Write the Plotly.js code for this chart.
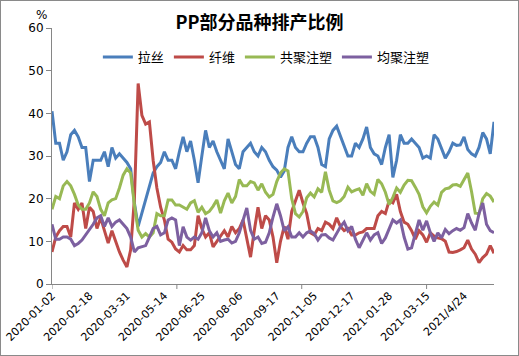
<!DOCTYPE html>
<html>
<head>
<meta charset="utf-8">
<script src="https://cdn.plot.ly/plotly-3.0.1.min.js"></script>
<style>
  html, body { margin: 0; padding: 0; background: #fff; }
  #wrap { position: relative; width: 519px; height: 356px; }
  #chart { width: 519px; height: 356px; }
  #frame { position: absolute; left: 0; top: 0; width: 517px; height: 354px; border: 1px solid #8a8a8a; pointer-events: none; }
</style>
</head>
<body>
<div id="wrap"><div id="chart"></div><div id="frame"></div></div>
<script>
// Date labels shown on the category axis (one label every 10 sampled points)
const tickLabels = ['2020-01-02','2020-02-18','2020-03-31','2020-05-14','2020-06-25','2020-08-06',
                    '2020-09-17','2020-11-05','2020-12-17','2021-01-28','2021-03-15','2021/4/24'];

const seriesNames = ['拉丝','纤维','共聚注塑','均聚注塑'];

// 拉丝
const lasi = [40.5,33,33,29,31,35,36,34.5,32,32,
  24,29,29,29,31,27.5,32,29.5,30.5,29.5,
  28.5,27,19,13.5,16.5,20,23,26,27.5,28.5,
  31,29,29,27,31,34.5,31,33.5,29,23.7,
  30,36,32,33.5,31,29,27,34,31,28,
  27,31,32,33,31,30,32,31,29,27.5,
  26.7,25,26.5,32,34.5,32,31,31,33,34.5,
  34.5,32,28,27.5,34,36,37,34.5,32.5,30,
  30,33,32,34,36.8,32,30.5,30,28,32,
  35,25,29,35,33,33,34,33,32,29.5,
  30,29.5,35,34,31.5,29.5,31,33,32.5,32.6,
  34.5,31.5,30.5,30,32,35.5,34,30.5,38];

// 纤维
const xianwei = [7.5,11,12.5,13.5,13.5,11,19,17.5,19,13,
  18,17,13,15.5,12.5,9.6,12.5,10,7.5,5.6,
  4,8,20,47,39.5,37.5,38,29,22.5,18,
  15,10.5,9.8,8.2,7.5,9,8,8,9,16,
  13,11,12,8.7,10,11.5,12.5,11,13.5,12,
  13,15,10.5,6.3,12.5,18,13,16,15,11,
  5,10,13.5,10.5,17,19.5,22,19,16.5,12,
  11.5,13,12.5,14.5,14,13,15.5,13.5,12.5,13,
  11.5,11.5,12,12.2,13,13,13,16,17,16.5,
  19.5,19,21,17,14.5,14,12.5,10.5,12.5,11.5,
  9.8,12,11.2,10.8,10.6,10,7.5,7.4,7.6,8,
  8.5,10.3,8.2,7,5,6.2,7,9,7.2];

// 共聚注塑
const gongju = [17.5,20.5,20,23,24,23,21,18.5,17.5,17.5,
  19,21.6,20.5,17.5,16,19,19.7,20,22.5,25.5,
  27,26,18.5,12.6,11,11.8,11,12,16.5,16,
  16,19.7,19.7,18.5,18.5,18,17.5,19,19.5,16.8,
  18,16.5,17,18.2,19.7,16.6,19.5,21.3,19,20.5,
  24.5,23,23,24,23.7,22,23.5,21.5,20.4,21,
  24,26,27,26.5,20,16.5,15.7,17,20.2,21.3,
  20.4,22.3,21.5,26.3,22,19.5,19.1,19.5,20.5,22.7,
  21.6,22,22.3,20.8,23.5,21.7,21,24.5,23.5,21.5,
  18.6,20.3,22.5,21.5,23.2,24.3,24.2,22.7,21,18.1,
  16.7,18.2,19.2,18.5,21.5,22.3,22.5,23.2,23.3,22.9,
  24.6,26,21.7,16.6,16.5,20,21.2,20.6,19.2];

// 均聚注塑
const junju = [14,10.5,10.5,11,11,10.5,9,9.5,10.3,11.5,
  12.8,14,15.5,16,13.5,15.5,13.5,14.5,15,14,
  13,11,7.5,8.5,8.7,9,11,13,13.5,11.5,
  12,15,15.5,15,9,13.4,11,10.3,11,10.5,
  12,15.5,12.5,11,12,10,10.3,10.5,9.6,10,
  12,15,17.8,12.6,10.5,11,9.5,9.8,12,15.7,
  18.8,16,12.5,13.4,11,11,12,11,12,12.4,
  11.8,10.3,11.5,11.6,10.8,10.3,12,13.4,14.5,12.5,
  13.5,10.5,8.5,10.3,12,10.3,11.5,12,9.5,10.8,
  13,15,14.3,15,11,8.2,8.5,12,15,12.6,
  14.8,12,10,12,10.8,12.8,11.8,12.5,13,12.6,
  13.2,16.5,14.3,12.6,16.5,19,14,12.5,12];

// Category tick-mark positions (every 100 original categories = 100/3 sampled points)
const xTickMarks = [0, 100/3, 200/3, 100];

const colors = ['#4a7ebb','#be4b48','#98b954','#7d60a0'];
const allSeries = [lasi, xianwei, gongju, junju];

const traces = allSeries.map((ys, k) => ({
  type: 'scatter', mode: 'lines', name: seriesNames[k], y: ys,
  line: {color: colors[k], width: 3},
  hoverinfo: 'skip'
}));

const labelStep = 10;
const tickvals = tickLabels.map((_, i) => i * labelStep);
const nPts = lasi.length;

const tickShapes = xTickMarks.map(v => ({
  type: 'line', xref: 'x', yref: 'paper', x0: v, x1: v,
  ysizemode: 'pixel', yanchor: 0, y0: 0, y1: -5,
  line: {color: '#868686', width: 1}
}));

const layout = {
  width: 519, height: 356,
  margin: {l: 52, r: 25, t: 28, b: 72},
  paper_bgcolor: '#ffffff', plot_bgcolor: '#ffffff',
  font: {family: '"DejaVu Sans", Verdana, sans-serif', size: 11, color: '#000'},
  title: {
    text: '<b>PP部分品种排产比例</b>',
    font: {family: '"Noto Sans CJK SC", sans-serif', size: 18, color: '#000'},
    x: 0.5, xanchor: 'center', y: 0.935, yanchor: 'middle'
  },
  showlegend: true,
  legend: {
    orientation: 'h', x: 0.485, xanchor: 'center', y: 0.887, yanchor: 'middle',
    font: {family: '"Noto Sans CJK SC", sans-serif', size: 13, color: '#000'},
    bgcolor: 'rgba(0,0,0,0)', itemwidth: 30, traceorder: 'normal'
  },
  xaxis: {
    range: [0, nPts - 1], showgrid: false, zeroline: false,
    showline: true, linecolor: '#868686', linewidth: 1,
    tickmode: 'array', tickvals: tickvals, ticktext: tickLabels,
    tickangle: -45, ticks: '', tickfont: {size: 11}
  },
  yaxis: {
    range: [0, 60], dtick: 10, showgrid: false, zeroline: false,
    showline: true, linecolor: '#868686', linewidth: 1,
    ticks: 'outside', ticklen: 5, tickcolor: '#868686', tickfont: {size: 12}
  },
  shapes: tickShapes,
  annotations: [{
    text: '%', xref: 'paper', yref: 'paper', x: 0, y: 1, xanchor: 'right', yanchor: 'bottom',
    xshift: -3, yshift: 4, showarrow: false, font: {size: 12}
  }]
};

Plotly.newPlot('chart', traces, layout, {staticPlot: true, displayModeBar: false});
</script>
</body>
</html>
